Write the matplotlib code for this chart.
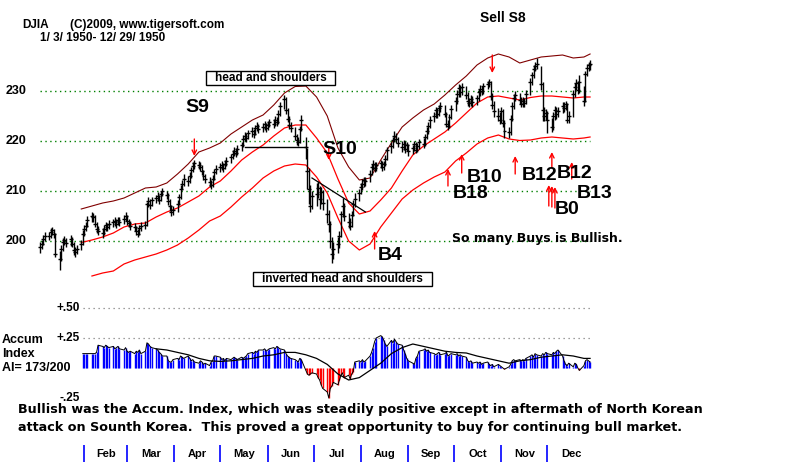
import matplotlib
matplotlib.use("Agg")
import matplotlib.dates as mdates
import matplotlib.pyplot as plt
import numpy as np
import pandas as pd
from matplotlib.patches import Rectangle

W, H = 800, 462
nan = np.nan

# DJIA 1950, one business day per value, one week per line (week 1 starts Tue Jan 3)
close = [
    198.9, 199.5, 200.5, 201.0,
    201.0, 201.8, 202.2, 201.5, 197.5,
    196.5, 198.5, 199.8, 200.2, 199.6,
    200.5, 199.5, 198.2, 197.8, 198.5,
    199.5, 201.5, 202.5, 203.0, 204.2,
    205.0, 204.8, 203.5, 202.5, 202.0,
    201.6, 202.4, 203.2, 202.8, 203.5,
    203.8, 204.0, 203.4, 204.2, 203.8,
    204.5, 205.0, 204.0, 203.6, 203.0,
    202.8, 202.0, 201.5, 202.6, 203.0,
    203.2, 207.5, 208.0, 207.2, 208.2,
    208.6, 209.0, 208.2, 209.4, 210.0,
    209.2, 208.0, 207.0, 205.8, 206.2,
    207.5, 208.8, 210.5, 211.5, 212.5,
    212.0, 213.0, 214.2, 215.0, 215.6,
    215.2, 214.8, 214.0, 213.0, 212.4,
    211.8, 211.2, 212.5, 213.8, 214.5,
    214.8, 215.2, 214.6, 215.5, 216.0,
    216.8, 217.5, 218.0, 217.6, 218.5,
    219.2, 220.5, 221.0, 220.6, 221.6,
    222.0, 221.5, 222.6, 223.0, 222.4,
    222.8, 223.4, 222.6, 223.2, 223.8,
    223.5, 224.2, 223.8, 225.5, 227.0,
    228.4, 226.2, 224.5, 223.2, 222.6,
    221.0, 220.2, 219.8, 222.5, 224.2,
    218.8, 214.0, 210.5, 207.0, 209.0,
    209.5, 210.6, 208.5, 209.8, 207.6,
    205.5, 203.5, 200.0, 197.5, 198.5,
    199.5, 201.0, 205.5, 207.0, 205.0,
    203.8, 203.0, 205.2, 207.5, 208.5,
    209.6, 210.8, 211.5, 212.2, 212.0,
    213.5, 214.8, 215.5, 214.6, 215.2,
    215.6, 214.8, 215.4, 216.5, 218.2,
    219.0, 220.2, 221.0, 220.4, 219.6,
    218.8, 219.5, 218.4, 219.2, 218.0,
    218.6, 219.4, 218.2, 219.0, 219.8,
    219.5, 220.8, 222.0, 223.0, 224.2,
    225.0, 226.2, 225.4, 226.6, 227.0,
    225.5, 223.5, 223.0, 224.8, 226.5,
    228.0, 229.5, 230.6, 229.8, 230.8,
    229.2, 228.0, 227.6, 228.4, 227.8,
    228.6, 229.8, 230.4, 230.0, 231.0,
    231.4, 231.8, 229.0, 227.2, 226.0,
    225.0, 224.2, 226.0, 223.6, 222.0,
    221.8, 224.5, 227.0, 228.6, 229.2,
    228.2, 227.4, 228.0, 227.6, 229.5,
    231.8, 233.2, 234.5, 235.0, 235.5,
    231.5, 226.2, 225.0, 225.6, 224.2,
    222.8, 225.0, 226.2, 225.4, 226.0,
    227.0, 226.6, 227.4, 224.2, 225.0,
    229.5, 230.8, 231.6, 230.2, 231.8,
    228.0, 233.4, 234.6, 235.2, 235.4,
]

high = [
    199.8, 200.3, 201.2, 201.8,
    201.9, 202.6, 202.9, 202.5, 201.6,
    198.0, 199.2, 200.6, 201.0, 200.6,
    201.2, 200.8, 199.8, 198.9, 199.2,
    200.2, 202.2, 203.2, 203.8, 205.0,
    205.8, 205.6, 205.2, 203.9, 203.0,
    202.6, 203.2, 203.9, 203.6, 204.2,
    204.5, 204.8, 204.4, 204.9, 204.8,
    205.2, 205.8, 205.2, 204.5, 204.0,
    203.6, 203.0, 202.5, 203.3, 203.8,
    204.0, 207.9, 208.8, 208.4, 208.9,
    209.3, 209.8, 209.2, 210.0, 210.6,
    210.1, 209.6, 208.4, 207.3, 207.0,
    208.2, 209.5, 211.2, 212.3, 213.4,
    213.0, 213.8, 214.9, 215.8, 216.2,
    216.0, 215.8, 215.2, 214.3, 213.5,
    212.8, 212.2, 213.2, 214.5, 215.3,
    215.6, 216.0, 215.7, 216.2, 216.9,
    217.5, 218.3, 218.8, 218.6, 219.2,
    219.9, 221.2, 221.8, 221.6, 222.3,
    222.8, 222.5, 223.3, 223.8, 223.5,
    223.6, 224.1, 223.7, 224.0, 224.5,
    224.4, 225.0, 224.8, 226.2, 227.8,
    229.2, 228.8, 226.6, 225.0, 223.8,
    222.9, 221.5, 220.8, 223.0, 225.2,
    220.8, 218.6, 214.6, 211.2, 210.0,
    211.6, 212.0, 211.0, 210.8, 210.2,
    208.4, 206.2, 204.0, 200.8, 199.8,
    200.8, 202.0, 206.0, 208.6, 207.6,
    205.6, 204.6, 206.0, 208.2, 209.6,
    210.4, 211.6, 212.4, 212.8, 212.9,
    214.2, 215.5, 216.2, 215.9, 215.9,
    216.3, 216.0, 216.0, 217.2, 218.9,
    219.8, 220.9, 222.0, 221.6, 220.8,
    220.0, 220.2, 220.0, 219.9, 219.5,
    219.3, 220.1, 219.8, 219.7, 220.5,
    220.6, 221.5, 222.8, 223.8, 225.0,
    225.8, 226.9, 226.6, 227.3, 227.9,
    227.2, 225.9, 224.2, 225.5, 227.2,
    228.8, 230.2, 231.4, 231.2, 231.6,
    231.0, 229.8, 228.6, 229.2, 229.0,
    229.3, 230.5, 231.2, 231.1, 231.7,
    232.0, 232.4, 232.0, 229.6, 228.0,
    226.6, 225.8, 226.8, 226.4, 224.2,
    222.8, 225.2, 227.8, 229.4, 230.0,
    229.6, 228.9, 228.8, 228.6, 230.2,
    232.6, 233.9, 235.2, 235.8, 236.6,
    235.0, 231.8, 226.8, 226.4, 226.0,
    224.6, 225.8, 227.0, 226.8, 226.8,
    227.8, 227.8, 228.0, 227.6, 226.0,
    230.2, 231.6, 232.4, 232.0, 233.2,
    231.0, 234.0, 235.4, 235.9, 236.2,
]

low = [
    197.6, 198.5, 199.2, 200.0,
    200.2, 200.6, 201.2, 200.6, 196.8,
    194.2, 196.0, 198.0, 199.2, 198.8,
    199.0, 198.8, 197.2, 196.8, 197.4,
    198.2, 199.2, 201.0, 202.0, 202.8,
    203.8, 203.9, 202.8, 201.6, 201.2,
    200.6, 201.2, 202.0, 202.0, 202.4,
    202.8, 203.1, 202.6, 203.2, 203.0,
    203.4, 204.0, 203.2, 202.8, 202.2,
    202.0, 201.2, 200.8, 201.2, 202.0,
    202.4, 203.0, 206.8, 206.4, 207.0,
    207.6, 208.0, 207.4, 208.0, 209.0,
    208.4, 207.2, 206.0, 205.0, 205.2,
    205.8, 207.2, 208.4, 210.2, 211.0,
    211.0, 211.6, 212.6, 213.8, 214.5,
    214.4, 214.0, 213.2, 212.2, 211.6,
    210.9, 210.4, 210.8, 212.2, 213.4,
    213.9, 214.2, 213.8, 214.4, 215.0,
    215.6, 216.4, 217.0, 216.8, 217.3,
    218.1, 218.9, 220.0, 219.8, 220.4,
    220.9, 220.7, 221.2, 222.0, 221.6,
    221.8, 222.3, 221.8, 222.2, 222.8,
    222.6, 223.0, 223.0, 223.5, 225.0,
    226.5, 225.5, 223.8, 222.4, 221.8,
    220.2, 219.2, 219.0, 219.6, 222.0,
    216.5, 210.5, 207.5, 205.8, 206.4,
    207.0, 208.6, 206.4, 207.4, 206.2,
    203.6, 201.8, 198.6, 195.6, 196.4,
    197.6, 198.6, 200.8, 204.8, 204.0,
    202.6, 202.2, 202.8, 205.0, 206.8,
    208.0, 209.4, 210.2, 210.9, 211.0,
    211.8, 213.2, 214.3, 213.8, 214.0,
    214.6, 214.0, 214.2, 215.0, 216.2,
    217.6, 218.6, 219.8, 219.6, 218.8,
    217.9, 218.2, 217.6, 218.0, 217.0,
    217.4, 218.0, 217.6, 217.8, 218.4,
    218.6, 219.0, 220.4, 221.4, 222.6,
    223.8, 224.6, 224.6, 225.0, 225.9,
    224.8, 222.8, 222.2, 222.6, 224.4,
    226.0, 227.5, 228.9, 228.9, 229.3,
    228.4, 227.0, 226.8, 227.0, 226.9,
    227.2, 228.0, 229.0, 229.2, 229.4,
    230.4, 230.8, 228.2, 226.4, 224.8,
    224.0, 223.4, 223.6, 222.8, 220.6,
    220.6, 221.2, 224.0, 226.4, 228.0,
    227.4, 226.8, 226.9, 226.8, 227.4,
    229.2, 231.2, 232.6, 234.0, 234.4,
    230.2, 224.0, 224.0, 224.2, 221.6,
    221.8, 222.2, 224.2, 224.4, 224.8,
    225.6, 225.8, 226.2, 223.6, 223.6,
    224.8, 228.8, 230.2, 229.4, 229.6,
    227.0, 227.8, 233.0, 234.0, 234.2,
]

# Tiger accumulation index, same days
accum = [
    nan, nan, nan, nan,
    nan, nan, nan, nan, nan,
    nan, nan, nan, nan, nan,
    nan, nan, nan, nan, nan,
    nan, 0.12, 0.12, 0.12, 0.12,
    0.12, 0.12, 0.12, 0.13, 0.19,
    0.18, 0.17, 0.19, 0.18, 0.17,
    0.18, 0.16, 0.17, 0.18, 0.16,
    0.15, 0.17, 0.14, 0.13, 0.14,
    0.12, 0.14, 0.13, 0.15, 0.12,
    0.14, 0.21, 0.20, 0.18, 0.17,
    0.16, 0.15, 0.13, 0.12, 0.10,
    0.10, 0.06, 0.05, 0.05, 0.07,
    0.08, 0.07, 0.10, 0.09, 0.08,
    0.10, 0.08, 0.06, 0.07, 0.05,
    0.04, 0.06, 0.05, 0.03, 0.04,
    0.02, 0.05, 0.06, 0.10, 0.10,
    0.09, 0.07, 0.08, 0.06, 0.08,
    0.07, 0.08, 0.09, 0.08, 0.07,
    0.09, 0.08, 0.09, 0.10, 0.12,
    0.13, 0.12, 0.14, 0.13, 0.15,
    0.15, 0.16, 0.14, 0.15, 0.16,
    0.17, 0.16, 0.18, 0.17, 0.16,
    0.15, 0.12, 0.10, 0.09, 0.08,
    0.07, 0.06, 0.05, 0.08, 0.07,
    -0.02, -0.05, -0.06, -0.05, -0.04,
    -0.05, -0.08, -0.10, -0.14, -0.17,
    -0.20, -0.25, -0.17, -0.15, -0.12,
    -0.14, -0.10, -0.06, -0.04, -0.08,
    -0.06, -0.09, -0.05, -0.03, 0.05,
    0.06, 0.05, 0.07, 0.05, 0.06,
    0.10, 0.13, 0.17, 0.22, 0.25,
    0.27, 0.26, 0.23, 0.20, 0.18,
    0.23, 0.21, 0.24, 0.22, 0.20,
    0.19, 0.15, 0.12, 0.08, 0.06,
    0.04, 0.03, 0.08, 0.10, 0.14,
    0.15, 0.16, 0.14, 0.15, 0.13,
    0.12, 0.11, 0.12, 0.13, 0.11,
    0.12, 0.13, 0.10, 0.11, 0.12,
    0.11, 0.12, 0.10, 0.11, 0.10,
    0.09, 0.06, 0.05, 0.06, 0.04,
    0.05, 0.04, 0.05, 0.03, 0.04,
    0.05, 0.03, 0.02, 0.03, 0.01,
    0.03, 0.02, 0.01, 0.00, -0.01,
    0.01, 0.03, 0.06, 0.07, 0.06,
    0.07, 0.06, 0.07, 0.06, 0.08,
    0.10, 0.11, 0.09, 0.12, 0.11,
    0.10, 0.12, 0.11, 0.13, 0.12,
    0.11, 0.13, 0.12, 0.14, 0.15,
    0.10, 0.06, 0.03, 0.02, 0.04,
    0.01, 0.04, 0.03, 0.00, -0.02,
    0.02, 0.06, 0.07, 0.06, 0.05,
]

# bands and AI average, read weekly (Mondays Jan 30 .. Dec 25, then Dec 29)
upper_band = [
    206.4, 207.0, 207.6, 208.0, 208.6, 209.6, 210.6, 210.8, 211.6, 213.4,
    215.4, 217.8, 218.6, 219.6, 221.4, 222.8, 224.2, 225.2, 227.2, 229.6,
    230.9, 231.0, 228.8, 225.0, 218.6, 214.8, 212.2, 212.6, 216.2, 219.6,
    222.8, 224.6, 226.2, 227.4, 229.2, 231.2, 233.0, 235.2, 236.6, 237.4,
    236.8, 235.6, 236.2, 236.8, 237.0, 237.2, 236.6, 236.8, 237.4,
]
mid_band = [
    199.7, 200.2, 200.8, 201.6, 202.8, 203.4, 203.6, 204.8, 205.8, 206.6,
    207.8, 209.0, 210.8, 212.0, 214.0, 216.2, 217.8, 219.2, 221.0, 222.6,
    223.2, 223.2, 220.6, 217.6, 212.4, 207.6, 205.4, 206.0, 208.2, 210.6,
    214.0, 217.2, 219.0, 220.4, 221.8, 223.6, 225.6, 227.6, 228.8, 229.0,
    228.6, 228.2, 228.7, 229.0, 229.0, 228.8, 228.6, 228.8, 228.8,
]
lower_band = [
    nan, 193.0, 193.6, 194.0, 195.4, 196.2, 196.8, 197.4, 198.2, 199.2,
    200.6, 202.2, 204.0, 205.0, 206.8, 208.8, 210.6, 212.6, 214.0, 215.0,
    215.4, 215.2, 212.8, 209.6, 204.6, 200.0, 198.2, 199.4, 202.8, 205.6,
    208.4, 210.2, 211.6, 212.8, 213.8, 216.0, 217.6, 219.4, 220.6, 221.2,
    220.4, 220.1, 220.2, 220.6, 220.8, 220.6, 220.4, 220.6, 220.8,
]
accum_ma = [
    nan, nan, nan, nan, nan, nan, nan, 0.16, 0.15, 0.13,
    0.11, 0.08, 0.06, 0.055, 0.06, 0.07, 0.08, 0.10, 0.11, 0.13,
    0.13, 0.11, 0.08, 0.03, -0.05, -0.10, -0.08, -0.02, 0.04, 0.12,
    0.17, 0.20, 0.18, 0.16, 0.14, 0.13, 0.125, 0.10, 0.08, 0.06,
    0.04, 0.06, 0.07, 0.09, 0.10, 0.11, 0.10, 0.08, 0.08,
]

price_ticks = [200, 210, 220, 230]
ai_ticks = [0.50, 0.25, -0.25]
ai_tick_labels = ["+.50", "+.25", "-.25"]
months = ["Feb", "Mar", "Apr", "May", "Jun", "Jul", "Aug", "Sep", "Oct", "Nov", "Dec"]

# signals: label, date, price
signal_labels = [
    ("S9", "1950-04-16", 226.6),
    ("S10", "1950-07-18", 218.2),
    ("B4", "1950-08-20", 197.0),
    ("B18", "1950-10-12", 209.6),
    ("B10", "1950-10-21", 212.6),
    ("B12", "1950-11-26", 213.0),
    ("B12", "1950-12-19", 213.6),
    ("B13", "1951-01-01", 209.6),
    ("B0", "1950-12-14", 206.4),
]
# arrows: date, tail price, head price
signal_arrows = [
    ("1950-04-14", 220.4, 217.0),
    ("1950-07-11", 218.6, 216.2),
    ("1950-10-26", 237.2, 233.6),
    ("1950-08-10", 198.4, 202.0),
    ("1950-09-27", 211.0, 214.4),
    ("1950-10-06", 213.6, 217.4),
    ("1950-11-10", 213.4, 217.0),
    ("1950-12-04", 214.6, 217.8),
    ("1950-12-17", 212.4, 215.8),
    ("1950-12-02", 207.0, 211.2),
    ("1950-12-04", 206.8, 211.0),
    ("1950-12-06", 206.6, 210.8),
]


def px(x, y):
    return x / W, 1 - y / H


def fig_text(fig, x, y, s, **kw):
    kw.setdefault("va", "center")
    kw.setdefault("ha", "left")
    kw.setdefault("fontweight", "bold")
    kw.setdefault("color", "black")
    fig.text(*px(x, y), s, **kw)


plt.rcParams["font.family"] = ["Liberation Sans", "DejaVu Sans"]

days = pd.bdate_range("1950-01-03", "1950-12-29")
band_dates = list(pd.date_range("1950-01-30", "1950-12-25", freq="W-MON")) + [pd.Timestamp("1950-12-29")]
dnum = mdates.date2num(days.to_pydatetime())
bnum = mdates.date2num(pd.DatetimeIndex(band_dates).to_pydatetime())

jan1 = mdates.date2num(pd.Timestamp("1950-01-01").to_pydatetime())
xlim = (jan1 - 24.18, jan1 + 499.4)

fig = plt.figure(figsize=(W / 100, H / 100), dpi=100)
fig.patch.set_facecolor("white")

# price panel: y pixels 40..300
ax = fig.add_axes([0, 1 - 300 / H, 1, 260 / H])
ax.set_xlim(xlim)
ax.set_ylim(188.2, 240.2)
ax.axis("off")

for p in price_ticks:
    ax.hlines(p, dnum[0], dnum[-1], color="#008000", lw=1.0, linestyles=(0, (1, 2.5)))
    ax.text(26 / W, p, str(p), transform=ax.get_yaxis_transform(), ha="right",
            va="center", fontsize=9, fontweight="bold")

ax.plot(bnum, upper_band, color="#800000", lw=0.8)
ax.plot(bnum, mid_band, color="#ff0000", lw=0.9)
ax.plot(bnum, lower_band, color="#ff0000", lw=0.9)

ax.vlines(dnum, low, high, color="black", lw=1.0)
ax.hlines(close, dnum - 1.3, dnum + 1.3, color="black", lw=1.0)

# pattern necklines
ax.plot(mdates.date2num(pd.to_datetime(["1950-05-17", "1950-06-26"]).to_pydatetime()),
        [218.8, 218.8], color="black", lw=1.0)
ax.plot(mdates.date2num(pd.to_datetime(["1950-06-30", "1950-08-04"]).to_pydatetime()),
        [212.6, 205.8], color="black", lw=0.9)

for d, y0, y1 in signal_arrows:
    xd = mdates.date2num(pd.Timestamp(d).to_pydatetime())
    ax.annotate("", xy=(xd, y1), xytext=(xd, y0),
                arrowprops=dict(arrowstyle="->", color="red", lw=1.0, mutation_scale=8,
                                shrinkA=0, shrinkB=0))

for lab, d, y in signal_labels:
    xd = mdates.date2num(pd.Timestamp(d).to_pydatetime())
    ax.text(xd, y, lab, ha="center", va="center", fontsize=14, fontweight="bold",
            clip_on=False)

# accumulation index panel: y pixels 300..405
ax2 = fig.add_axes([0, 1 - 405 / H, 1, 105 / H])
ax2.set_xlim(xlim)
ax2.set_ylim(-0.3083, 0.5667)
ax2.axis("off")

for v in ai_ticks[:2]:
    ax2.hlines(v, dnum[20], dnum[-1], color="#808080", lw=0.9, linestyles=(0, (1, 3)))
for v, lab in zip(ai_ticks, ai_tick_labels):
    ax2.text(80 / W, v, lab, transform=ax2.get_yaxis_transform(), ha="right",
             va="center", fontsize=8.5, fontweight="bold")

ai = np.array(accum)
colors = np.where(ai >= 0, "#0000ff", "#ff0000")
ax2.vlines(dnum, 0, ai, colors=colors, lw=1.0)
ax2.plot(dnum, ai, color="black", lw=0.7)
ax2.plot(bnum, accum_ma, color="black", lw=0.9)

# month strip: y pixels 445..462
ax3 = fig.add_axes([0, 0, 1, 17 / H])
ax3.set_xlim(xlim)
ax3.set_ylim(0, 1)
ax3.axis("off")
month_starts = pd.date_range("1950-02-01", "1951-01-01", freq="MS")
mnum = mdates.date2num(month_starts.to_pydatetime())
ax3.vlines(mnum[:-1], 0, 1, color="#0000ff", lw=1.2)
for i, m in enumerate(months):
    ax3.text((mnum[i] + mnum[i + 1]) / 2, 0.45, m, ha="center", va="center",
             fontsize=8, fontweight="bold")

# header and notes
fig_text(fig, 22, 25, "DJIA", fontsize=8.5)
fig_text(fig, 70, 25, "(C)2009, www.tigersoft.com", fontsize=8.5)
fig_text(fig, 40, 38, "1/ 3/ 1950- 12/ 29/ 1950", fontsize=8.5)
fig_text(fig, 480, 18, "Sell S8", fontsize=10)

fig.add_artist(Rectangle(px(206, 85), 129 / W, 14 / H, transform=fig.transFigure,
                         fill=True, fc="white", ec="black", lw=1.0))
fig_text(fig, 270.5, 78, "head and shoulders", ha="center", fontsize=8.5)
fig.add_artist(Rectangle(px(253, 286), 179 / W, 14 / H, transform=fig.transFigure,
                         fill=True, fc="white", ec="black", lw=1.0))
fig_text(fig, 342.5, 279, "inverted head and shoulders", ha="center", fontsize=8.5)

fig_text(fig, 452, 239, "So many Buys is Bullish.", family="DejaVu Sans", fontsize=9)

fig_text(fig, 2, 340, "Accum", fontsize=9)
fig_text(fig, 2, 354, "Index", fontsize=9)
fig_text(fig, 2, 368, "AI= 173/200", fontsize=9)

fig_text(fig, 18, 410,
         "Bullish was the Accum. Index, which was steadily positive except in aftermath of North Korean",
         family="DejaVu Sans", fontsize=9.15)
fig_text(fig, 18, 428,
         "attack on Sounth Korea.  This proved a great opportunity to buy for continuing bull market.",
         family="DejaVu Sans", fontsize=9.15)

fig.savefig("out.png", dpi=100, facecolor="white")
